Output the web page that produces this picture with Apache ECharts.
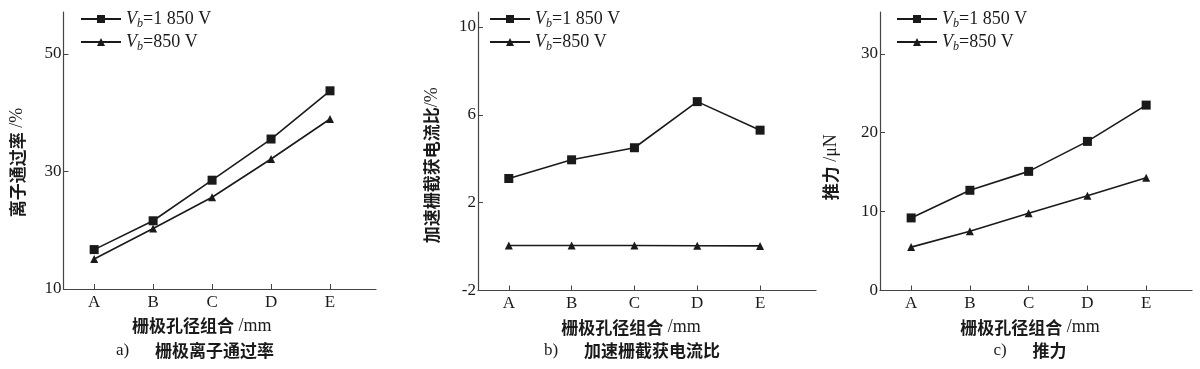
<!DOCTYPE html>
<html>
<head>
<meta charset="utf-8">
<script src="https://cdn.jsdelivr.net/npm/echarts@6/dist/echarts.min.js"></script>
<style>html,body{margin:0;padding:0;background:#fff;}#c{width:1200px;height:369px;}</style>
</head>
<body>
<div id="c"></div>
<script>
// ---- data ----
const categories = ['A', 'B', 'C', 'D', 'E'];
const seriesNames = ['Vb=1 850 V', 'Vb=850 V'];
const rateHigh = [16.7, 21.6, 28.5, 35.5, 43.7];
const rateLow = [15.1, 20.3, 25.6, 32.1, 38.9];
const currentHigh = [3.1, 3.95, 4.5, 6.6, 5.3];
const currentLow = [0.05, 0.05, 0.05, 0.04, 0.03];
const thrustHigh = [9.2, 12.7, 15.1, 18.9, 23.5];
const thrustLow = [5.5, 7.5, 9.8, 12.0, 14.3];
const rateTicks = [10, 30, 50];
const currentTicks = [-2, 2, 6, 10];
const thrustTicks = [0, 10, 20, 30];
const xAxisTitle = '栅极孔径组合';
const xAxisUnit = ' /mm';
const yTitles = [['离子通过率', ' /%'], ['加速栅截获电流比', '/%'], ['推力', ' /μN']];
const captions = [['a)', '栅极离子通过率'], ['b)', '加速栅截获电流比'], ['c)', '推力']];

// ---- styles ----
const SERIF = '"Liberation Serif", "Times New Roman", serif';
const CJK = '"Noto Sans CJK SC", sans-serif';
const INK = '#1a1a1a';
const AXIS = '#444';

const grids = [
  {left: 63.5, top: 12, width: 312.5, height: 277, xMin: -0.52, xMax: 4.78, yMin: 10, yMax: 57.1},
  {left: 478, top: 12, width: 338, height: 278.5, xMin: -0.49, xMax: 4.89, yMin: -2, yMax: 10.68},
  {left: 880, top: 12, width: 312, height: 278.5, xMin: -0.53, xMax: 4.78, yMin: 0, yMax: 35.3}
];
const yTicksList = [rateTicks, currentTicks, thrustTicks];
const dataList = [[rateHigh, rateLow], [currentHigh, currentLow], [thrustHigh, thrustLow]];
const yNameGap = [37, 37, 40];
const yNamePad = [[0, 24, 0, 0], [0, 28, 0, 0], [0, 32, 0, 0]];
const xNamePad = [[0, 36, 0, 0], [0, 32, 0, 0], [0, 12, 0, 0]];
const legendPos = [{left: 80, top: 10}, {left: 489, top: 10}, {left: 896, top: 10}];

function toXY(vals) { return categories.map((c, i) => [i, vals[i]]); }

const option = {
  animation: false,
  backgroundColor: '#fff',
  grid: grids.map(g => ({left: g.left, top: g.top, width: g.width, height: g.height, containLabel: false})),
  xAxis: grids.map((g, k) => ({
    type: 'value', gridIndex: k, min: g.xMin, max: g.xMax,
    splitLine: {show: false},
    axisLine: {show: true, onZero: false, lineStyle: {color: AXIS, width: 1.2}},
    axisTick: {show: true, inside: true, length: 5, customValues: categories.map((c, i) => i), lineStyle: {color: AXIS}},
    axisLabel: {customValues: categories.map((c, i) => i), formatter: v => categories[Math.round(v)] || '',
      fontFamily: SERIF, fontSize: 17, color: INK, margin: 5},
    name: '{c|' + xAxisTitle + '}{u|' + xAxisUnit + '}', nameLocation: 'middle', nameGap: 28,
    nameTextStyle: {padding: xNamePad[k], rich: {c: {fontFamily: CJK, fontSize: 17, fontWeight: 'bold', color: INK},
      u: {fontFamily: SERIF, fontSize: 18, color: INK}}}
  })),
  yAxis: grids.map((g, k) => ({
    type: 'value', gridIndex: k, min: g.yMin, max: g.yMax,
    splitLine: {show: false},
    axisLine: {show: true, onZero: false, lineStyle: {color: AXIS, width: 1.2}},
    axisTick: {show: true, inside: true, length: 5, customValues: yTicksList[k], lineStyle: {color: AXIS}},
    axisLabel: {customValues: yTicksList[k], fontFamily: SERIF, fontSize: 17, color: INK, margin: 2},
    name: '{c|' + yTitles[k][0] + '}{u|' + yTitles[k][1] + '}', nameLocation: 'middle', nameGap: yNameGap[k],
    nameTextStyle: {padding: yNamePad[k], rich: {c: {fontFamily: CJK, fontSize: 17, fontWeight: 'bold', color: INK},
      u: {fontFamily: SERIF, fontSize: 18, color: INK}}}
  })),
  legend: legendPos.map(p => ({
    left: p.left, top: p.top, padding: 0, orient: 'vertical', itemWidth: 40, itemHeight: 10, itemGap: 3,
    data: seriesNames,
    formatter: n => '{i|V}{s|b}{n|' + n.slice(2) + '}',
    textStyle: {rich: {
      i: {fontFamily: SERIF, fontStyle: 'italic', fontSize: 18, color: INK},
      s: {fontFamily: SERIF, fontStyle: 'italic', fontSize: 12, color: INK, padding: [10, 0, 0, 0]},
      n: {fontFamily: SERIF, fontSize: 18, color: INK}
    }}
  })),
  series: [],
  graphic: []
};

dataList.forEach((pair, k) => {
  pair.forEach((vals, j) => {
    option.series.push({
      type: 'line', name: seriesNames[j], xAxisIndex: k, yAxisIndex: k,
      data: toXY(vals),
      symbol: j === 0 ? 'rect' : 'triangle',
      symbolSize: j === 0 ? 9 : 8,
      itemStyle: {color: INK},
      lineStyle: {color: INK, width: 1.6},
      emphasis: {disabled: true}
    });
  });
});

const capCenters = [195, 632, 1030];
const capStyles = captions.map(c => ({
  text: '{a|' + c[0] + '}{g|}{t|' + c[1] + '}',
  rich: {a: {fontFamily: SERIF, fontSize: 17, fill: INK},
    g: {width: 26},
    t: {fontFamily: CJK, fontSize: 17, fontWeight: 'bold', fill: INK}}
}));

const chart = echarts.init(document.getElementById('c'), null, {renderer: 'canvas'});
chart.setOption(option);
const gs = capStyles.map((st, k) => {
  const txt = new echarts.graphic.Text({style: st});
  const w = txt.getBoundingRect().width;
  return {type: 'text', left: capCenters[k] - w / 2, top: 342, style: st};
});
chart.setOption({graphic: gs});
</script>
</body>
</html>
